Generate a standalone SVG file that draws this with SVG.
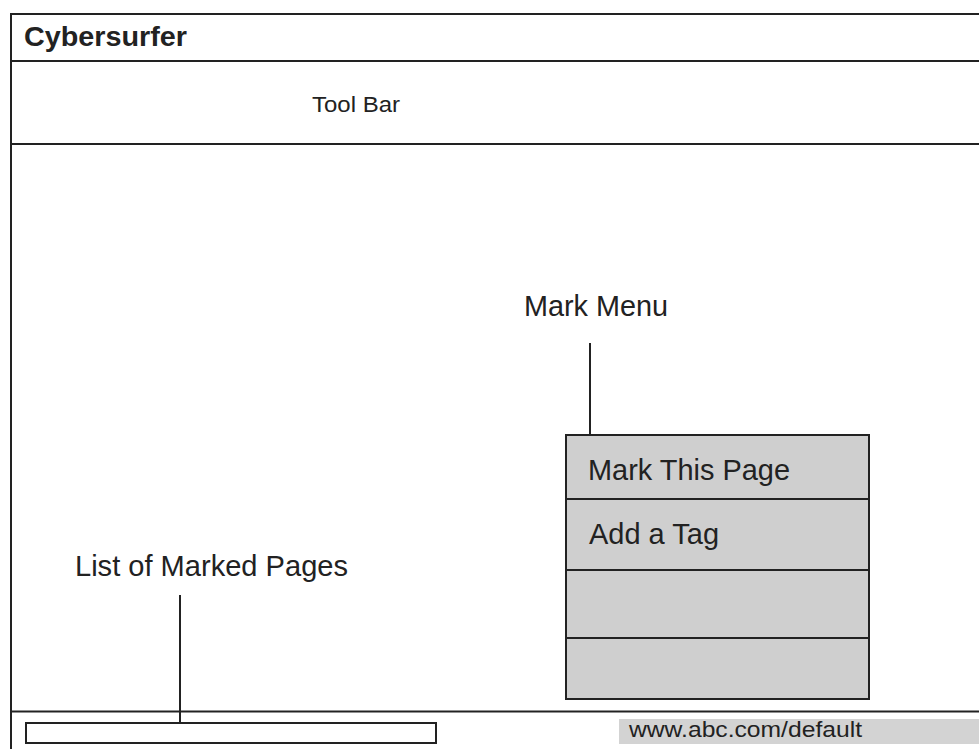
<svg xmlns="http://www.w3.org/2000/svg" width="979" height="749" viewBox="0 0 979 749">
<style>
.ln{stroke:#222;stroke-width:2;fill:none}
.t{font-family:"Liberation Sans",Arial,sans-serif;fill:#222}
.menu{fill:#cfcfcf;stroke:#222;stroke-width:2}
</style>
<rect width="979" height="749" fill="#fff"/>
<g id="frame">
<path class="ln" d="M11,749 V14 H981 M11,61 H981 M11,144 H981 M11,711.5 H981"/>
</g>
<g id="title"><text class="t" x="24" y="46" font-size="28" font-weight="bold" textLength="163" lengthAdjust="spacingAndGlyphs">Cybersurfer</text></g>
<g id="toolbar"><text class="t" x="312" y="112" font-size="22" textLength="88" lengthAdjust="spacingAndGlyphs">Tool Bar</text></g>
<g id="mark-menu-label"><text class="t" x="524" y="316" font-size="29" textLength="144" lengthAdjust="spacingAndGlyphs">Mark Menu</text></g>
<g id="list-label"><text class="t" x="75" y="576" font-size="29" textLength="273" lengthAdjust="spacingAndGlyphs">List of Marked Pages</text></g>
<g id="mark-menu">
<rect class="menu" x="566" y="435" width="303" height="264"/>
<path class="ln" d="M566,499 H869 M566,570 H869 M566,638 H869"/>
<text class="t" x="588" y="480" font-size="29" textLength="202" lengthAdjust="spacingAndGlyphs">Mark This Page</text>
<text class="t" x="589" y="544" font-size="29" textLength="130" lengthAdjust="spacingAndGlyphs">Add a Tag</text>
</g>
<g id="marked-list"><rect x="26" y="723" width="410" height="20" fill="#fff" stroke="#222" stroke-width="2"/></g>
<g id="status">
<rect x="619" y="719" width="362" height="25" fill="#d3d3d3"/>
<text class="t" x="629" y="737" font-size="22" fill="#333" textLength="233" lengthAdjust="spacingAndGlyphs">www.abc.com/default</text>
</g>
<g id="connectors">
<path class="ln" d="M590,343 V435 M180,595 V723"/>
</g>
</svg>
